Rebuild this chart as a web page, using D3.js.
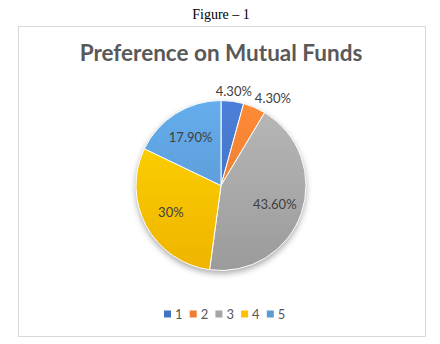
<!DOCTYPE html>
<html><head><meta charset="utf-8">
<script src="https://cdn.jsdelivr.net/npm/d3@7"></script>
<style>body{margin:0;background:#fff}svg{display:block}</style>
</head><body>
<script>
const categories = ["1","2","3","4","5"];
const values = [4.3, 4.3, 43.6, 30, 17.9];
const labels = ["4.30%","4.30%","43.60%","30%","17.90%"];
const colors = ["#4472C4","#ED7D31","#A5A5A5","#FFC000","#5B9BD5"];
const title = "Preference on Mutual Funds";
const caption = "Figure – 1";

const W = 440, H = 344;
const svg = d3.select("body").append("svg").attr("width", W).attr("height", H);
const defs = svg.append("defs");
const f = defs.append("filter").attr("id","sh").attr("x","-20%").attr("y","-20%").attr("width","140%").attr("height","150%");
f.append("feDropShadow").attr("dx",0).attr("dy",3).attr("stdDeviation",3).attr("flood-color","#000").attr("flood-opacity",0.35);

colors.forEach((c,i)=>{
  const g = defs.append("linearGradient").attr("id","g"+i).attr("gradientUnits","userSpaceOnUse")
    .attr("x1",0).attr("y1",-85).attr("x2",0).attr("y2",85);
  g.append("stop").attr("offset","0%").attr("stop-color", d3.color(c).brighter(0.3));
  g.append("stop").attr("offset","100%").attr("stop-color", d3.color(c).darker(0.18));
});

svg.append("text").attr("x",221).attr("y",19).attr("text-anchor","middle")
  .attr("font-family","Liberation Serif, Times New Roman, serif").attr("font-size",14).attr("fill","#000").text(caption);

svg.append("rect").attr("x",18.5).attr("y",26.5).attr("width",407).attr("height",310)
  .attr("fill","#fff").attr("stroke","#d9d9d9").attr("stroke-width",1);

svg.append("text").attr("x",221).attr("y",61).attr("text-anchor","middle")
  .attr("font-family","Lato, Open Sans, sans-serif").attr("font-weight","bold").attr("font-size",22.5)
  .attr("fill","#595959").text(title);

const cx = 221, cy = 185.5, R = 85;
const pie = d3.pie().sort(null).value(d=>d)(values);
const arc = d3.arc().innerRadius(0).outerRadius(R);
const g = svg.append("g").attr("transform",`translate(${cx},${cy})`);
g.append("circle").attr("r",R).attr("fill","#999").attr("filter","url(#sh)");
g.selectAll("path").data(pie).join("path").attr("d",arc)
  .attr("fill",(d,i)=>`url(#g${i})`).attr("stroke","#fff").attr("stroke-width",1);

const inArc = d3.arc().innerRadius(R*0.67).outerRadius(R*0.67);
const outArc = d3.arc().innerRadius(R*1.12).outerRadius(R*1.12);
const lbl = g.selectAll("text.lbl").data(pie).join("text").attr("class","lbl")
  .attr("text-anchor","middle").attr("dy","0.35em")
  .attr("font-family","Lato, Open Sans, sans-serif").attr("font-size",13).attr("fill","#404040")
  .text((d,i)=>labels[i]);
let prevRight = null;
lbl.each(function(d,i){
  const outside = values[i] < 10;
  let p = outside ? outArc.centroid(d) : inArc.centroid(d);
  const w = this.getComputedTextLength();
  if (outside) {
    if (prevRight !== null && p[0] - w/2 < prevRight + 3) p[0] = prevRight + 3 + w/2;
    prevRight = p[0] + w/2;
  }
  d3.select(this).attr("transform",`translate(${p[0]},${p[1]})`);
});

const lg = svg.append("g");
const x0 = 164, step = 25.7, ly = 314;
categories.forEach((c,i)=>{
  lg.append("rect").attr("x",x0+i*step).attr("y",ly-3.5).attr("width",7).attr("height",7).attr("fill",colors[i]);
  lg.append("text").attr("x",x0+i*step+11).attr("y",ly).attr("dy","0.35em")
    .attr("font-family","Lato, Open Sans, sans-serif").attr("font-size",13).attr("fill","#595959").text(c);
});
</script>
</body></html>
